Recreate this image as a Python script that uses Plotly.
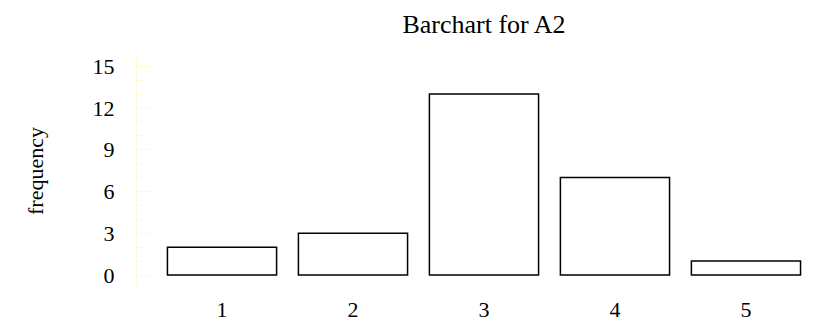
import plotly.graph_objects as go

categories = ["1", "2", "3", "4", "5"]
frequency = [2, 3, 13, 7, 1]
y_ticks = [0, 3, 6, 9, 12, 15]

W, H = 818, 322
L, R, T, B = 137, 0, 58, 30
axis_col = "#fffbd0"
font_family = "Liberation Serif, Times New Roman, serif"

fig = go.Figure(
    go.Bar(
        x=list(range(len(categories))),
        y=frequency,
        marker=dict(color="white", line=dict(color="black", width=1.5)),
        hoverinfo="skip",
    )
)

fig.update_layout(
    width=W,
    height=H,
    margin=dict(l=L, r=R, t=T, b=B, pad=0),
    paper_bgcolor="white",
    plot_bgcolor="white",
    bargap=1 - 1 / 1.2,
    showlegend=False,
    font=dict(family=font_family, size=22, color="black"),
    title=dict(
        text="Barchart for A2",
        font=dict(family=font_family, size=26, color="black"),
        xref="container",
        yref="container",
        x=484 / W,
        xanchor="center",
        y=1 - 24 / H,
        yanchor="middle",
    ),
)

fig.update_xaxes(
    range=[-0.649, 4.55],
    tickmode="array",
    tickvals=list(range(len(categories))),
    ticktext=categories,
    showgrid=False,
    zeroline=False,
    showline=False,
    ticks="",
    ticklabelstandoff=10,
    tickfont=dict(family=font_family, size=22, color="black"),
)

fig.update_yaxes(
    range=[-0.645, 15.59],
    tickmode="array",
    tickvals=y_ticks,
    ticktext=[str(v) for v in y_ticks],
    showgrid=False,
    zeroline=False,
    showline=True,
    linecolor=axis_col,
    linewidth=1,
    ticks="inside",
    ticklen=13,
    tickwidth=1,
    tickcolor=axis_col,
    minor=dict(dtick=1, tick0=0, ticks="inside", ticklen=6, tickwidth=1, tickcolor=axis_col),
    ticklabelstandoff=17,
    tickfont=dict(family=font_family, size=22, color="black"),
)

fig.add_annotation(
    text="frequency",
    textangle=-90,
    xref="paper",
    yref="paper",
    x=(35 - L) / (W - L - R),
    y=0.5,
    xanchor="center",
    yanchor="middle",
    showarrow=False,
    font=dict(family=font_family, size=22, color="black"),
)

fig.write_html("out.html")
